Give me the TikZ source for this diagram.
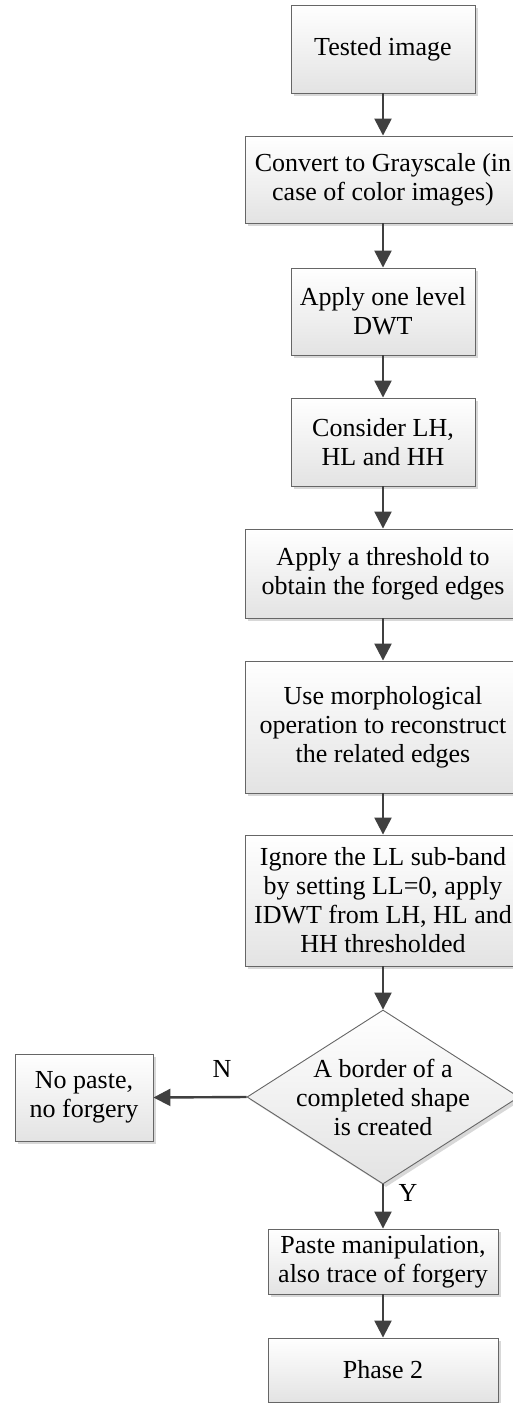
\documentclass[tikz,border=0pt]{standalone}
\usepackage{fontspec}
\setmainfont{Liberation Serif}
\usetikzlibrary{arrows.meta,shapes.geometric,shadows}
\begin{document}
\begin{tikzpicture}[x=1pt,y=-1pt,
  txt/.style={font=\fontsize{26}{29}\selectfont, align=center, inner sep=0pt},
  box/.style={txt, draw=black!60, line width=0.9pt, shading=axis, top color=white, bottom color=black!11,
    drop shadow={shadow xshift=3pt,shadow yshift=-3pt,fill=black!30,opacity=0.5}},
  arr/.style={draw=black!75, line width=2.4pt, -{Triangle[length=17pt,width=17pt]}}]
\useasboundingbox[fill=white] (0,0) rectangle (513,1403);
\clip (0,0) rectangle (513,1403);
\node[box, minimum width=184pt, minimum height=88pt] (t1) at (383,49) {Tested image};
\node[box, minimum width=276pt, minimum height=87pt] (t2) at (383,179.5) {Convert to Grayscale (in\\case of color images)};
\node[box, minimum width=184pt, minimum height=87pt] (t3) at (383,311.5) {Apply one level\\DWT};
\node[box, minimum width=184pt, minimum height=88pt] (t4) at (383,442) {Consider LH,\\HL and HH};
\node[box, minimum width=276pt, minimum height=89pt] (t5) at (383,573.5) {Apply a threshold to\\obtain the forged edges};
\node[box, minimum width=276pt, minimum height=132pt] (t6) at (383,727) {Use morphological\\operation to reconstruct\\the related edges};
\node[box, minimum width=276pt, minimum height=131pt] (t7) at (383,900.5) {Ignore the LL sub-band\\by setting LL=0, apply\\IDWT from LH, HL and\\HH thresholded};
\node[box, shape=diamond, minimum width=272pt, minimum height=174pt] (dia) at (383,1097) {};
\node[txt] (dtext) at (dia.center) {A border of a\\completed shape\\is created};
\node[box, minimum width=138pt, minimum height=87pt] (np) at (84,1097.5) {No paste,\\no forgery};
\node[box, minimum width=230pt, minimum height=65pt] (t8) at (383,1261.5) {Paste manipulation,\\also trace of forgery};
\node[box, minimum width=230pt, minimum height=64pt] (t9) at (383,1370) {Phase 2};
\node[txt] (lN) at (222,1069) {N};
\node[txt] (lY) at (408,1193) {Y};
\draw[arr] (t1.south) -- (t2.north);
\draw[arr] (t2.south) -- (t3.north);
\draw[arr] (t3.south) -- (t4.north);
\draw[arr] (t4.south) -- (t5.north);
\draw[arr] (t5.south) -- (t6.north);
\draw[arr] (t6.south) -- (t7.north);
\draw[arr] (t7.south) -- (dia.north);
\draw[arr] (dia.west) -- (np.east);
\draw[arr] (dia.south) -- (t8.north);
\draw[arr] (t8.south) -- (t9.north);
\end{tikzpicture}
\end{document}
